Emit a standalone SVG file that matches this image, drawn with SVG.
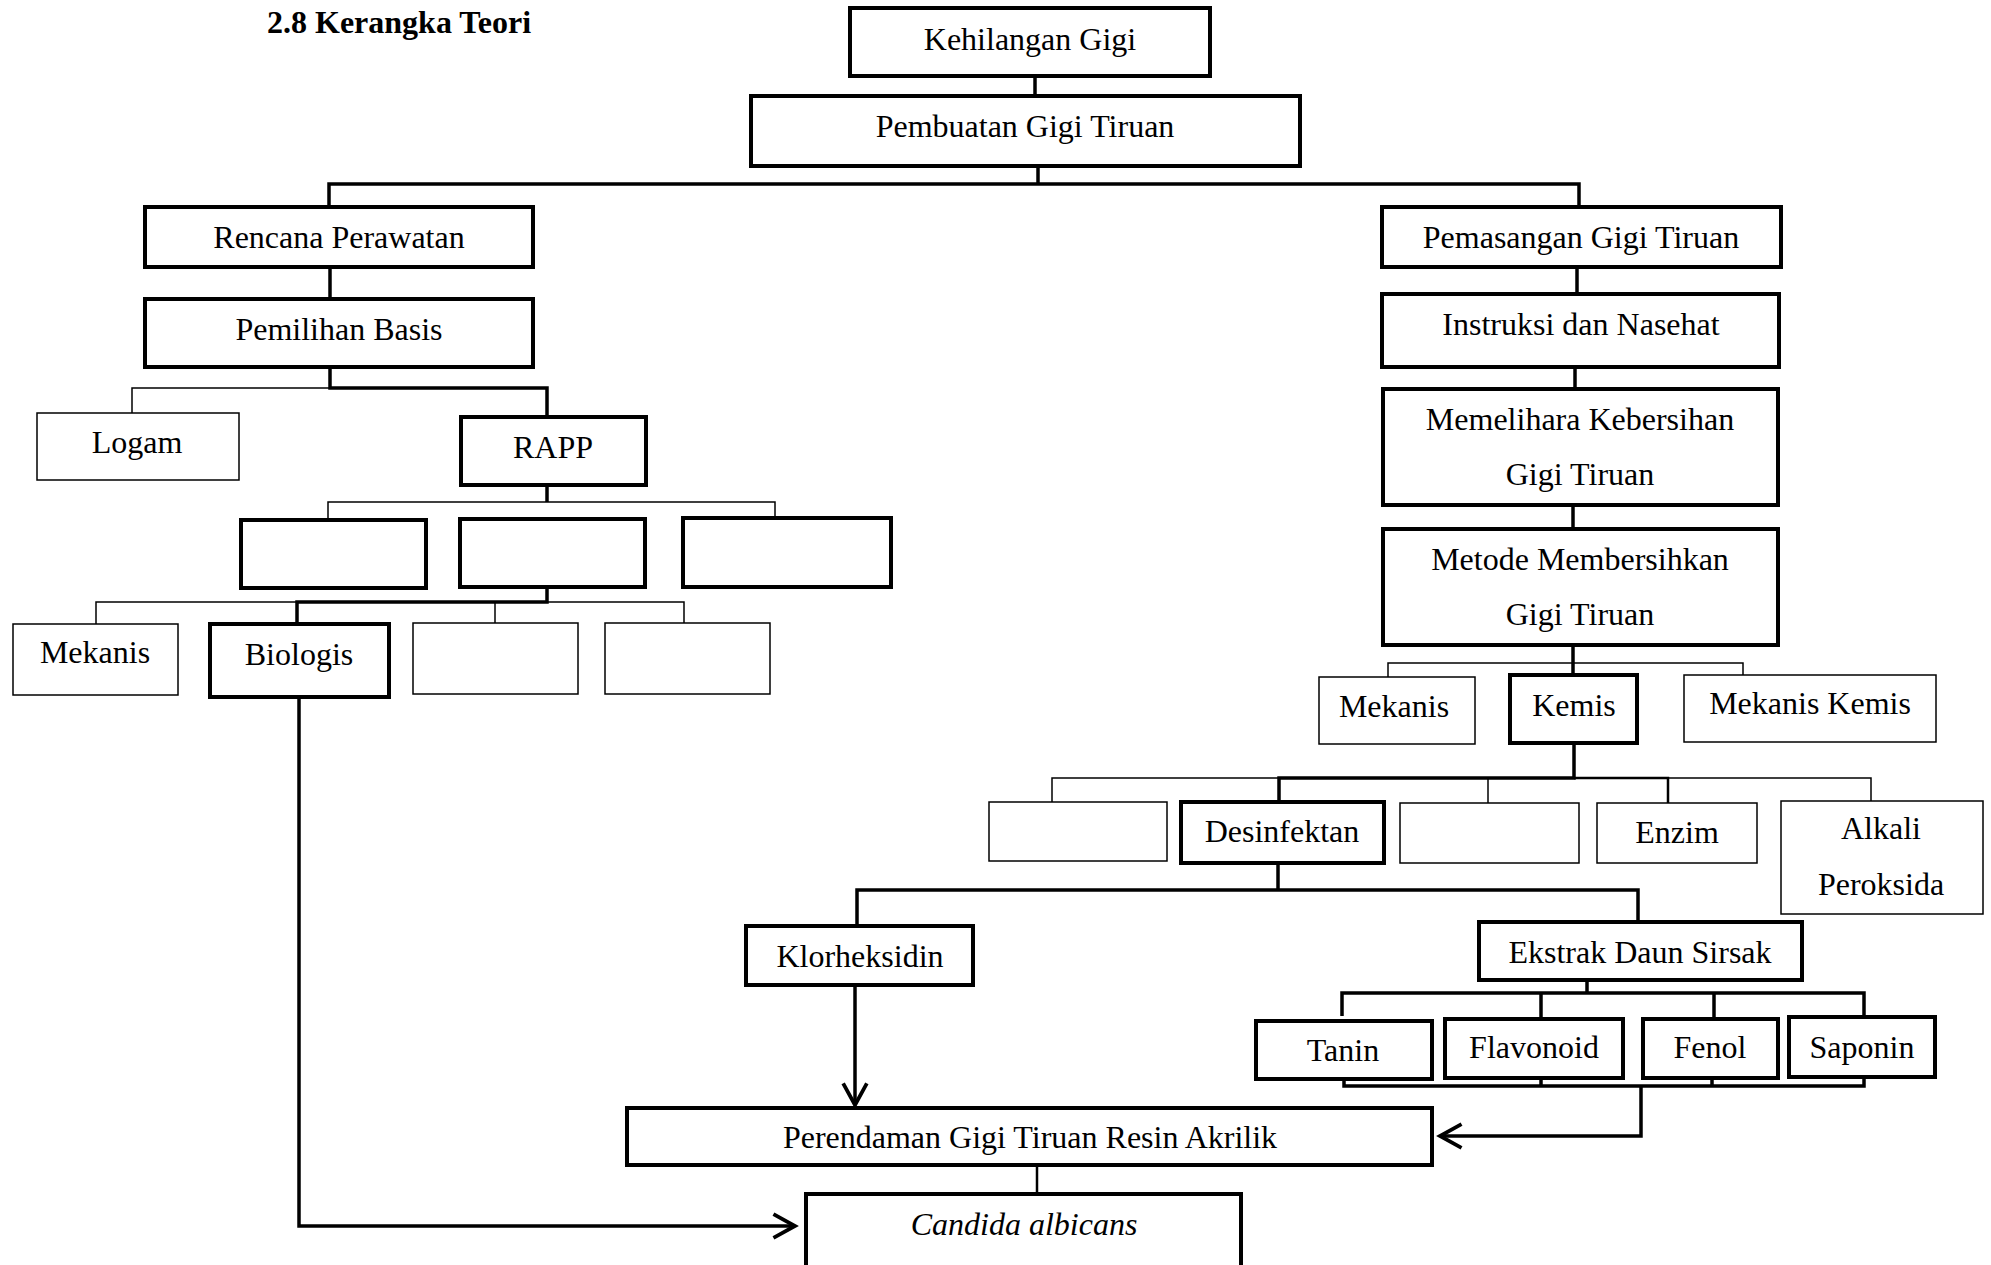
<svg xmlns="http://www.w3.org/2000/svg" width="1991" height="1265" viewBox="0 0 1991 1265">
<style>
  .thick { fill: #fff; stroke: #000; stroke-width: 4; }
  .thin { fill: #fff; stroke: #000; stroke-width: 1.5; }
  .lbl { font-family: "Liberation Serif", "Times New Roman", serif; font-size: 32px; fill: #000; text-anchor: middle; }
  .title { font-family: "Liberation Serif", "Times New Roman", serif; font-size: 32px; font-weight: bold; fill: #000; }
  .c-thick { fill: none; stroke: #000; stroke-width: 3.5; }
  .c-mid { fill: none; stroke: #000; stroke-width: 2.5; }
  .c-thin { fill: none; stroke: #000; stroke-width: 1.5; }
</style>
<defs>
  <marker id="arr" markerUnits="userSpaceOnUse" markerWidth="26" markerHeight="28" viewBox="-2 -2 24 26" refX="20" refY="11" orient="auto" overflow="visible">
    <path d="M0,0 L20,11 L0,22" fill="none" stroke="#000" stroke-width="3.5"/>
  </marker>
</defs>
<rect width="1991" height="1265" fill="#fff"/>

<text class="title" x="267" y="33">2.8 Kerangka Teori</text>

<g id="connectors">
  <path class="c-thick" d="M1035 76 V96"/>
  <path class="c-thick" d="M1038 166 V184"/>
  <path class="c-thick" d="M329 207 V184 H1579 V207"/>
  <path class="c-thick" d="M330 267 V299"/>
  <path class="c-thick" d="M330 367 V388 H547 V417"/>
  <path class="c-thin" d="M330 388 H132 V413"/>
  <path class="c-thick" d="M547 485 V502"/>
  <path class="c-thin" d="M328 520 V502 H775 V518"/>
  <path class="c-thick" d="M547 587 V602 H297 V624"/>
  <path class="c-thin" d="M297 602 H96 V624"/>
  <path class="c-thin" d="M547 602 H684 V623"/>
  <path class="c-thin" d="M495 602 V623"/>
  <path class="c-thick" d="M299 697 V1226 H795" marker-end="url(#arr)"/>

  <path class="c-thick" d="M1577 267 V294"/>
  <path class="c-thick" d="M1575 367 V389"/>
  <path class="c-thick" d="M1573 505 V529"/>
  <path class="c-thick" d="M1573 645 V675"/>
  <path class="c-thin" d="M1388 677 V663 H1743 V675"/>
  <path class="c-thick" d="M1574 743 V778 H1279 V802"/>
  <path class="c-mid" d="M1574 778 H1668 V803"/>
  <path class="c-thin" d="M1279 778 H1052 V802"/>
  <path class="c-thin" d="M1668 778 H1871 V801"/>
  <path class="c-thin" d="M1488 778 V803"/>

  <path class="c-thick" d="M1278 863 V890"/>
  <path class="c-thick" d="M857 926 V890 H1638 V922"/>
  <path class="c-thick" d="M855 985 V1105" marker-end="url(#arr)"/>
  <path class="c-thick" d="M1587 980 V993"/>
  <path class="c-thick" d="M1342 1016 V993 H1864 V1016"/>
  <path class="c-thick" d="M1541 993 V1019"/>
  <path class="c-thick" d="M1714 993 V1019"/>
  <path class="c-thick" d="M1344 1076 V1086 H1864 V1078"/>
  <path class="c-thick" d="M1541 1079 V1086"/>
  <path class="c-thick" d="M1712 1076 V1086"/>
  <path class="c-thick" d="M1641 1086 V1136 H1440" marker-end="url(#arr)"/>
  <path class="c-mid" d="M1037 1165 V1194"/>
</g>

<g id="kehilangan"><rect class="thick" x="850" y="8" width="360" height="68"/><text class="lbl" x="1030" y="50">Kehilangan Gigi</text></g>
<g id="pembuatan"><rect class="thick" x="751" y="96" width="549" height="70"/><text class="lbl" x="1025" y="137">Pembuatan Gigi Tiruan</text></g>
<g id="rencana"><rect class="thick" x="145" y="207" width="388" height="60"/><text class="lbl" x="339" y="248">Rencana Perawatan</text></g>
<g id="pemilihan"><rect class="thick" x="145" y="299" width="388" height="68"/><text class="lbl" x="339" y="340">Pemilihan Basis</text></g>
<g id="logam"><rect class="thin" x="37" y="413" width="202" height="67"/><text class="lbl" x="137" y="453">Logam</text></g>
<g id="rapp"><rect class="thick" x="461" y="417" width="185" height="68"/><text class="lbl" x="553" y="458">RAPP</text></g>
<g id="rapp-a"><rect class="thick" x="241" y="520" width="185" height="68"/></g>
<g id="rapp-b"><rect class="thick" x="460" y="519" width="185" height="68"/></g>
<g id="rapp-c"><rect class="thick" x="683" y="518" width="208" height="69"/></g>
<g id="mekanis-l"><rect class="thin" x="13" y="624" width="165" height="71"/><text class="lbl" x="95" y="663">Mekanis</text></g>
<g id="biologis"><rect class="thick" x="210" y="624" width="179" height="73"/><text class="lbl" x="299" y="665">Biologis</text></g>
<g id="box-d"><rect class="thin" x="413" y="623" width="165" height="71"/></g>
<g id="box-e"><rect class="thin" x="605" y="623" width="165" height="71"/></g>

<g id="pemasangan"><rect class="thick" x="1382" y="207" width="399" height="60"/><text class="lbl" x="1581" y="248">Pemasangan Gigi Tiruan</text></g>
<g id="instruksi"><rect class="thick" x="1382" y="294" width="397" height="73"/><text class="lbl" x="1581" y="335">Instruksi dan Nasehat</text></g>
<g id="memelihara"><rect class="thick" x="1383" y="389" width="395" height="116"/><text class="lbl" x="1580" y="430">Memelihara Kebersihan</text><text class="lbl" x="1580" y="485">Gigi Tiruan</text></g>
<g id="metode"><rect class="thick" x="1383" y="529" width="395" height="116"/><text class="lbl" x="1580" y="570">Metode Membersihkan</text><text class="lbl" x="1580" y="625">Gigi Tiruan</text></g>
<g id="mekanis-r"><rect class="thin" x="1319" y="677" width="156" height="67"/><text class="lbl" x="1394" y="717">Mekanis</text></g>
<g id="kemis"><rect class="thick" x="1510" y="675" width="127" height="68"/><text class="lbl" x="1574" y="716">Kemis</text></g>
<g id="mekanis-kemis"><rect class="thin" x="1684" y="675" width="252" height="67"/><text class="lbl" x="1810" y="714">Mekanis Kemis</text></g>
<g id="box-f"><rect class="thin" x="989" y="802" width="178" height="59"/></g>
<g id="desinfektan"><rect class="thick" x="1181" y="802" width="203" height="61"/><text class="lbl" x="1282" y="842">Desinfektan</text></g>
<g id="box-g"><rect class="thin" x="1400" y="803" width="179" height="60"/></g>
<g id="enzim"><rect class="thin" x="1597" y="803" width="160" height="60"/><text class="lbl" x="1677" y="843">Enzim</text></g>
<g id="alkali"><rect class="thin" x="1781" y="801" width="202" height="113"/><text class="lbl" x="1881" y="839">Alkali</text><text class="lbl" x="1881" y="895">Peroksida</text></g>
<g id="klorheksidin"><rect class="thick" x="746" y="926" width="227" height="59"/><text class="lbl" x="860" y="967">Klorheksidin</text></g>
<g id="ekstrak"><rect class="thick" x="1479" y="922" width="323" height="58"/><text class="lbl" x="1640" y="963">Ekstrak Daun Sirsak</text></g>
<g id="tanin"><rect class="thick" x="1256" y="1021" width="176" height="58"/><text class="lbl" x="1343" y="1061">Tanin</text></g>
<g id="flavonoid"><rect class="thick" x="1445" y="1019" width="178" height="59"/><text class="lbl" x="1534" y="1058">Flavonoid</text></g>
<g id="fenol"><rect class="thick" x="1643" y="1019" width="135" height="59"/><text class="lbl" x="1710" y="1058">Fenol</text></g>
<g id="saponin"><rect class="thick" x="1789" y="1017" width="146" height="60"/><text class="lbl" x="1862" y="1058">Saponin</text></g>
<g id="perendaman"><rect class="thick" x="627" y="1108" width="805" height="57"/><text class="lbl" x="1030" y="1148">Perendaman Gigi Tiruan Resin Akrilik</text></g>
<g id="candida"><rect class="thick" x="806" y="1194" width="435" height="90"/><text class="lbl" x="1024" y="1235" font-style="italic">Candida albicans</text></g>
</svg>
